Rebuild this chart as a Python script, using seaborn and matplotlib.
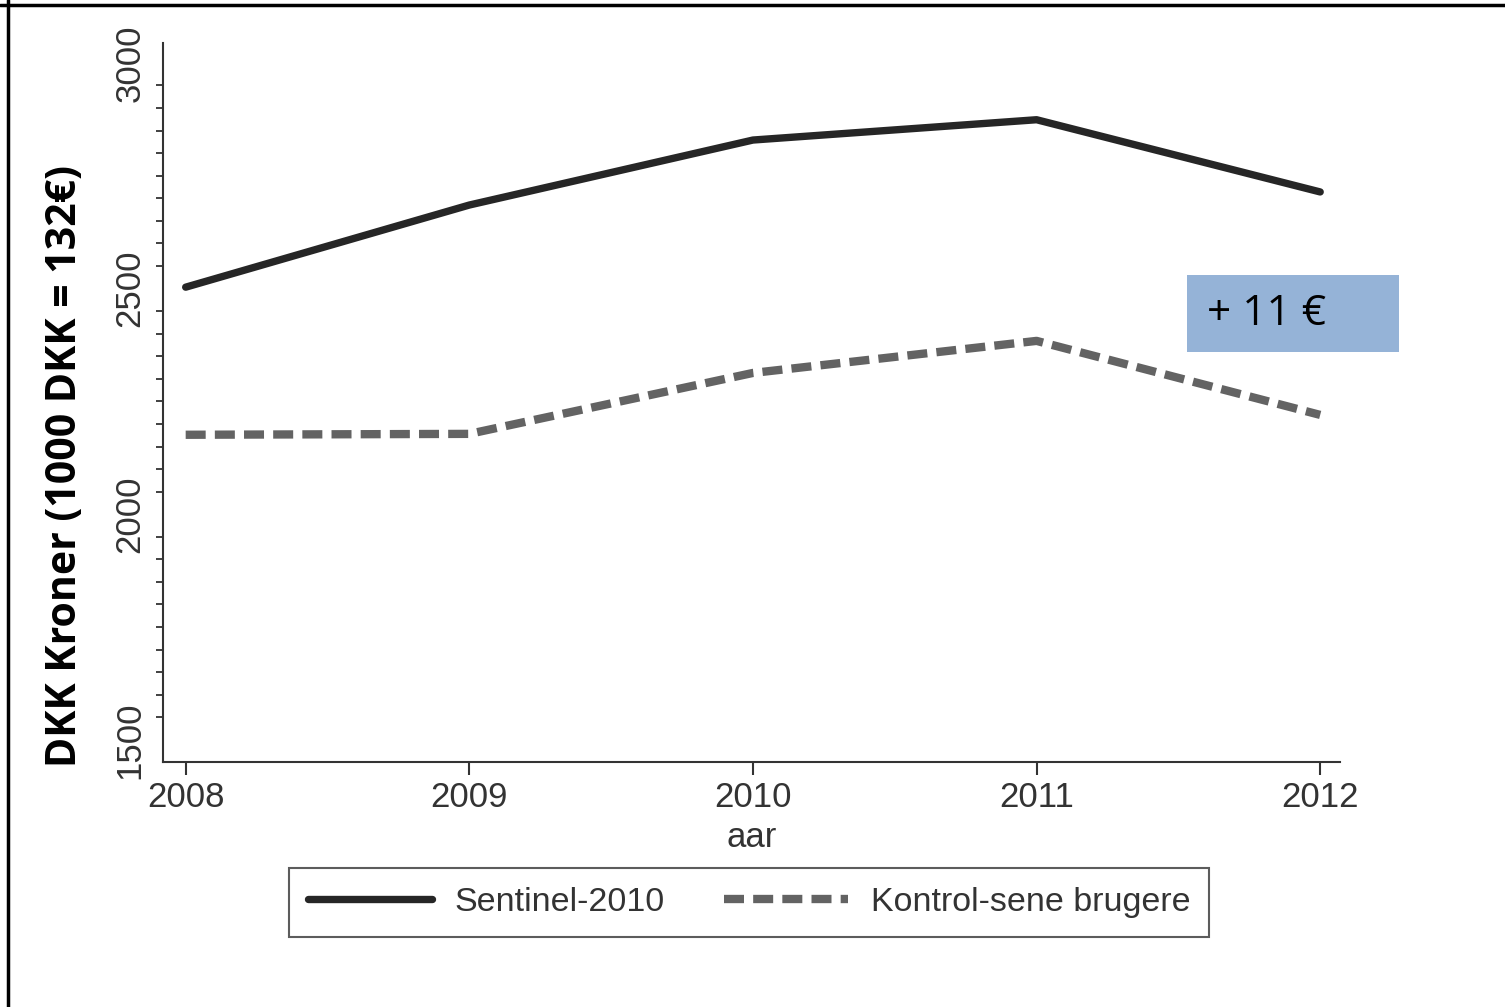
import pandas as pd
import matplotlib.pyplot as plt
import seaborn as sns
from matplotlib.lines import Line2D
from matplotlib.patches import Rectangle
from matplotlib.ticker import MultipleLocator

#-- Data:

years = [2008, 2009, 2010, 2011, 2012]
sentinel = [2503, 2685, 2829, 2874, 2714]
kontrol = [2176, 2178, 2313, 2384, 2220]
series_names = ['Sentinel-2010', 'Kontrol-sene brugere']

df = pd.DataFrame({
    'aar': years * 2,
    'kroner': sentinel + kontrol,
    'gruppe': [series_names[0]] * len(years) + [series_names[1]] * len(years),
})

#-- Style:

sns.set_style('white')
plt.rcParams['font.family'] = ['Liberation Sans', 'DejaVu Sans']

solid_col = '#262626'
dash_col = '#636363'
dash_pat = (2.4, 1.1)

fig = plt.figure(figsize=(15.05, 10.07), dpi=100)
ax = fig.add_axes([0.1083, 0.2433, 0.7821, 0.714])

sns.lineplot(data=df[df['gruppe'] == series_names[0]], x='aar', y='kroner',
             color=solid_col, linewidth=5.3, ax=ax, legend=False)
sns.lineplot(data=df[df['gruppe'] == series_names[1]], x='aar', y='kroner',
             color=dash_col, linewidth=6, dashes=dash_pat, ax=ax, legend=False)
ax.lines[1].set_dashes(dash_pat)

ax.set_xlim(2007.92, 2012.07)
ax.set_ylim(1451, 3044)
ax.set_xticks(years)
ax.set_yticks([1500, 2000, 2500, 3000])
ax.yaxis.set_minor_locator(MultipleLocator(50))

ax.tick_params(axis='both', which='major', labelsize=25, colors='#333333', width=1.5, length=9, pad=5)
ax.tick_params(axis='y', which='minor', left=True, colors='#333333', width=1.3, length=5)
ax.tick_params(axis='y', which='major', pad=3)
ax.tick_params(axis='x', bottom=True)
for lbl in ax.get_yticklabels():
    lbl.set_rotation(90)
    lbl.set_va('center')

for side in ['top', 'right']:
    ax.spines[side].set_visible(False)
for side in ['left', 'bottom']:
    ax.spines[side].set_color('#333333')
    ax.spines[side].set_linewidth(1.5)

ax.set_xlabel('aar', fontsize=25, color='#333333', labelpad=5)
ax.set_ylabel('DKK Kroner (1000 DKK = 132€)', fontsize=29.5, fontweight='bold',
              family=['Open Sans', 'DejaVu Sans'], color='black')
ax.yaxis.set_label_coords(-0.065, 0.412)

#- Legend:

handles = [
    Line2D([], [], color=solid_col, linewidth=5.3),
    Line2D([], [], color=dash_col, linewidth=6, dashes=dash_pat),
]
leg = fig.legend(handles, series_names, loc='center', bbox_to_anchor=(0.4977, 0.1038),
                 ncol=2, fontsize=24.5, frameon=True, fancybox=False, handlelength=3.65,
                 columnspacing=1.76, handletextpad=0.65, borderpad=0.55, borderaxespad=0,
                 edgecolor='#333333')
leg.get_frame().set_linewidth(1.5)
for t in leg.get_texts():
    t.set_color('#333333')

#- Annotation box:

fig.patches.append(Rectangle((1187 / 1505, 1 - 352 / 1007), 212 / 1505, 77 / 1007,
                             transform=fig.transFigure, facecolor='#95b3d7', edgecolor='none'))
fig.text(1207 / 1505, 1 - 314 / 1007, '+ 11 €', fontsize=30.5, va='center', ha='left',
         family=['Open Sans', 'DejaVu Sans'], color='black')

#- Frame of the original slide:

fig.add_artist(Line2D([0.0055, 0.0055], [0, 1], transform=fig.transFigure, color='black', linewidth=2.5))
fig.add_artist(Line2D([0, 1], [0.9955, 0.9955], transform=fig.transFigure, color='black', linewidth=2.5))

fig.savefig('out.png', dpi=100)
